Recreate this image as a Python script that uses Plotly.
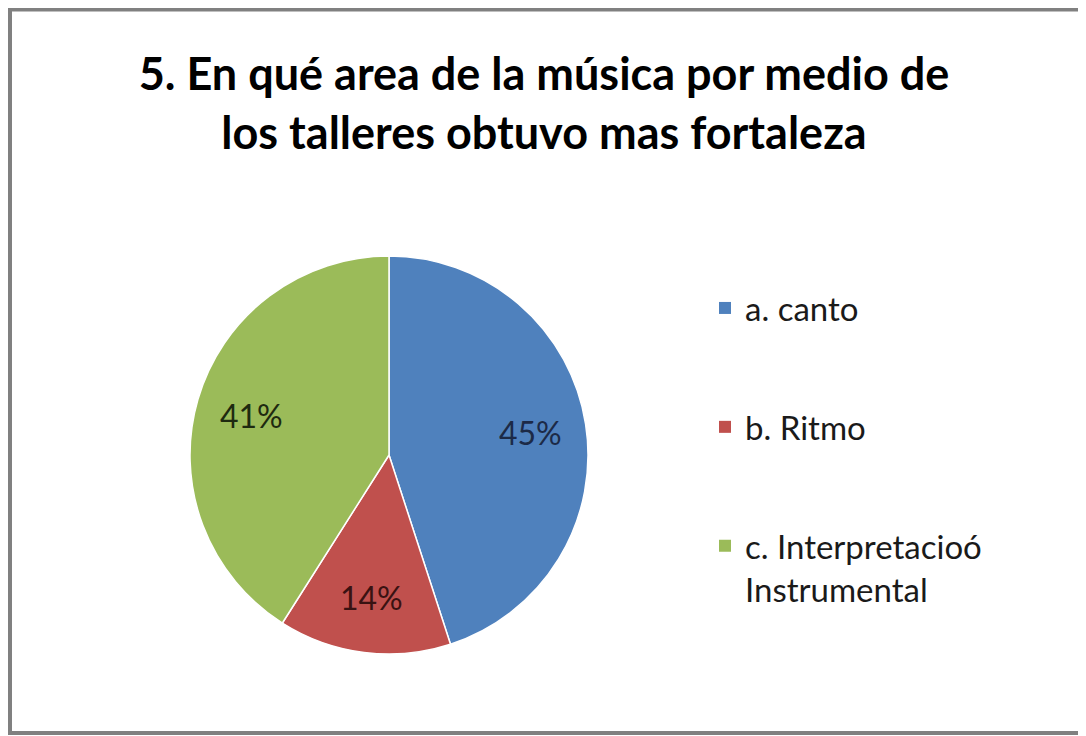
import math
import plotly.graph_objects as go

categories = ["a. canto", "b. Ritmo", "c. Interpretacioó<br>Instrumental"]
values = [45, 14, 41]
colors = ["#4F81BD", "#C0504D", "#9BBB59"]
label_colors = ["#1C2A47", "#3A1212", "#1E2A10"]
title_text = "5. En qué area de la música por medio de<br>los talleres obtuvo mas fortaleza"

# page has an 8px body margin; figure fills the rest of the window
W, H = 1078, 728
cx, cy, r = 381, 447, 199
label_frac = 0.72

fig = go.Figure()
fig.add_trace(go.Pie(
    labels=categories,
    values=values,
    sort=False,
    direction="clockwise",
    rotation=0,
    marker=dict(colors=colors, line=dict(color="white", width=1.5)),
    textinfo="none",
    showlegend=False,
    domain=dict(x=[(cx - r) / W, (cx + r) / W], y=[1 - (cy + r) / H, 1 - (cy - r) / H]),
))

# data labels at each slice's mid-angle (derived from the values)
total = sum(values)
cum = 0
annotations = []
for v, lc in zip(values, label_colors):
    mid = (cum + v / 2) / total * 2 * math.pi
    cum += v
    px = cx + math.sin(mid) * label_frac * r
    py = cy - math.cos(mid) * label_frac * r
    annotations.append(dict(
        x=px / W, y=1 - py / H, xref="paper", yref="paper",
        text=f"{round(100 * v / total)}%", showarrow=False,
        font=dict(family="Lato", size=32, color=lc),
        xanchor="center", yanchor="middle",
    ))

for i, (lab, col) in enumerate(zip(categories, colors)):
    fig.add_trace(go.Scatter(
        x=[None], y=[None], mode="markers", name=lab,
        marker=dict(symbol="square", size=12, color=col),
        legendgroup=f"g{i}", showlegend=True,
    ))

fig.update_layout(
    width=W, height=H,
    margin=dict(l=0, r=0, t=0, b=0),
    paper_bgcolor="white", plot_bgcolor="white",
    xaxis=dict(visible=False), yaxis=dict(visible=False),
    title=dict(text=title_text, x=536 / W, xanchor="center", y=1 - 82 / H, yanchor="top",
               font=dict(family="Lato", size=45, color="black", weight="bold")),
    legend=dict(x=697 / W, y=1 - 272 / H, xanchor="left", yanchor="top",
                font=dict(family="Lato", size=33, color="#1a1a1a"),
                tracegroupgap=73, itemclick=False, bgcolor="rgba(0,0,0,0)", valign="top"),
    annotations=annotations,
    shapes=[dict(type="rect", xref="paper", yref="paper",
                 x0=2 / W, x1=1074 / W, y0=1 - 725 / H, y1=1 - 1.5 / H,
                 line=dict(color="#808080", width=4))],
)

fig.write_html("out.html")
